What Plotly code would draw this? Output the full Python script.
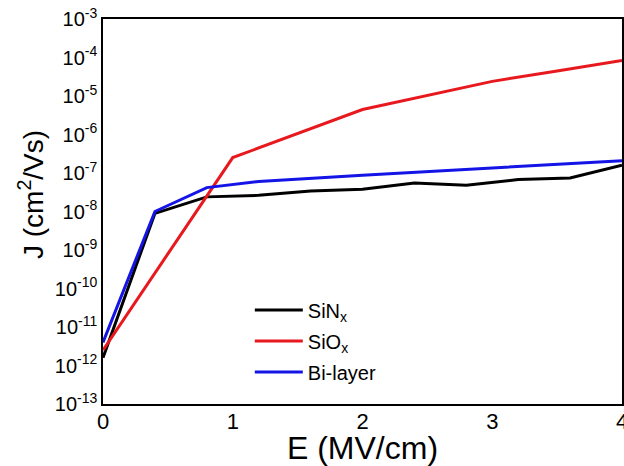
import plotly.graph_objects as go

# Data (log10 values)
E_sin = [0, 0.4, 0.8, 1.2, 1.6, 2.0, 2.4, 2.8, 3.2, 3.6, 4.0]
logJ_sin = [-11.8, -8.05, -7.62, -7.58, -7.47, -7.42, -7.26, -7.32, -7.17, -7.13, -6.80]

E_sio = [0, 1.0, 2.0, 2.5, 3.0, 3.5, 4.0]
logJ_sio = [-11.6, -6.6, -5.35, -4.98, -4.62, -4.35, -4.08]

E_bi = [0, 0.4, 0.8, 1.2, 2.0, 3.0, 4.0]
logJ_bi = [-11.4, -8.0, -7.38, -7.22, -7.06, -6.87, -6.68]

ytick_exp = [-3, -4, -5, -6, -7, -8, -9, -10, -11, -12, -13]
xtick_vals = [0, 1, 2, 3, 4]

J_sin = [10 ** v for v in logJ_sin]
J_sio = [10 ** v for v in logJ_sio]
J_bi = [10 ** v for v in logJ_bi]

FONT = "Arial, Liberation Sans, sans-serif"

fig = go.Figure()
fig.add_trace(go.Scatter(x=E_sin, y=J_sin, mode="lines", name="SiN<sub>x</sub>",
                         line=dict(color="black", width=3), legend="legend"))
fig.add_trace(go.Scatter(x=E_sio, y=J_sio, mode="lines", name="SiO<sub>x</sub>",
                         line=dict(color="#e8191e", width=3), legend="legend2"))
fig.add_trace(go.Scatter(x=E_bi, y=J_bi, mode="lines", name="Bi-layer",
                         line=dict(color="#1414e6", width=3), legend="legend3"))

PW = 624 - 103 - 2
PH = 466 - 19 - 62

leg_common = dict(x=(255 - 103) / PW - 0.01, xanchor="left", yanchor="middle",
                  bgcolor="rgba(0,0,0,0)",
                  font=dict(family=FONT, size=20, color="black"), itemwidth=48)

fig.update_layout(
    width=624, height=466,
    margin=dict(l=103, r=2, t=19, b=62, autoexpand=False),
    paper_bgcolor="white", plot_bgcolor="white",
    font=dict(family=FONT, color="black"),
    showlegend=True,
    legend=dict(y=(404 - 310) / PH, **leg_common),
    legend2=dict(y=(404 - 341) / PH, **leg_common),
    legend3=dict(y=(404 - 372) / PH, **leg_common),
    xaxis=dict(range=[0, 4], tickvals=xtick_vals, ticktext=[str(v) for v in xtick_vals],
               showgrid=False, zeroline=False, showline=True, linecolor="black", linewidth=1.5,
               mirror=True, ticks="", tickfont=dict(size=22), ticklabeloverflow="allow",
               ticklabelstandoff=-3, automargin=False,
               title=dict(text="E (MV/cm)", font=dict(size=32), standoff=6)),
    yaxis=dict(type="log", range=[-13, -3], tickvals=[10 ** e for e in ytick_exp],
               ticktext=["10<sup>%d</sup>" % e for e in ytick_exp],
               showgrid=False, zeroline=False, showline=True, linecolor="black", linewidth=1.5,
               mirror=True, ticks="", tickfont=dict(size=20), ticklabelstandoff=0,
               ticklabeloverflow="allow", automargin=False),
    annotations=[dict(text="J (cm<sup>2</sup>/Vs)", textangle=-90, xref="paper", yref="paper",
                      x=-72 / PW, y=(404 - 195) / PH, xanchor="center", yanchor="middle",
                      showarrow=False, font=dict(size=28, family=FONT, color="black"))],
)

fig.write_html("out.html")
